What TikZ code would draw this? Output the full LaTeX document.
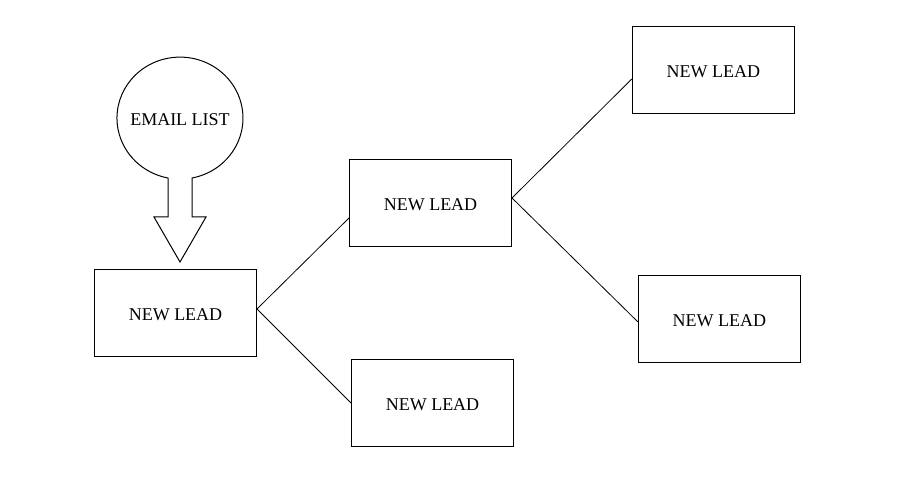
\documentclass[tikz,border=0pt]{standalone}
\usepackage{fontspec}
\setmainfont{Liberation Serif}
\usepackage{tikz}

\begin{document}
\begin{tikzpicture}[
  x=1pt, y=-1pt,
  every node/.style={font=\fontsize{18}{21}\selectfont, text height=16pt, text depth=0pt},
  lead/.style={rectangle, draw, line width=1pt, minimum width=162pt, minimum height=87pt, inner sep=0pt},
  link/.style={line width=0.8pt}
]
\useasboundingbox (0,0) rectangle (903,478);

\node[lead] (A) at (175.5,313) {NEW LEAD};
\node[lead] (B) at (430.5,203) {NEW LEAD};
\node[lead] (C) at (432.5,403) {NEW LEAD};
\node[lead] (D) at (713.3,70) {NEW LEAD};
\node[lead] (E) at (719.3,318.8) {NEW LEAD};

% email list bubble with its arrow
\node (list) at (180,118) {EMAIL LIST};
\draw[line width=1pt] (168,178) -- (168,217) -- (154,217) -- (180,262) -- (206,217)
  -- (192,217) -- (192,178) arc[start angle=79, end angle=-259, x radius=63, y radius=61];

\draw[link] ([yshift=4pt]A.east) -- ([yshift=-15pt]B.west);
\draw[link] ([yshift=4pt]A.east) -- (C.west);
\draw[link] ([yshift=5pt]B.east) -- ([yshift=-9pt]D.west);
\draw[link] ([yshift=5pt]B.east) -- ([yshift=-3pt]E.west);
\end{tikzpicture}
\end{document}
